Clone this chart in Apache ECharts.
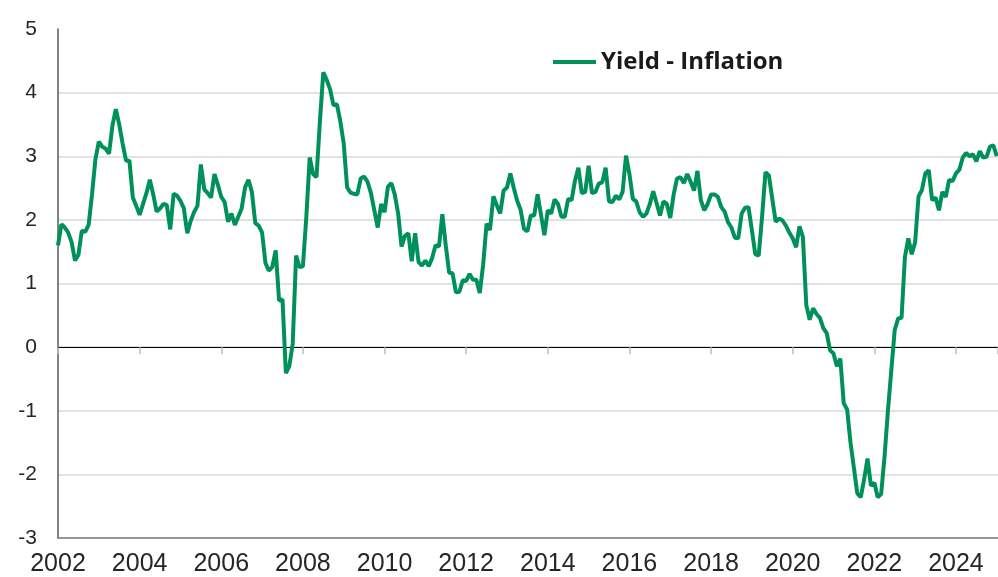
<!DOCTYPE html>
<html>
<head>
<meta charset="utf-8">
<script src="https://cdn.jsdelivr.net/npm/echarts@6/dist/echarts.min.js"></script>
<style>
  html, body { margin: 0; padding: 0; background: #fff; }
  #chart { width: 998px; height: 577px; }
</style>
</head>
<body>
<div id="chart"></div>
<script>
// monthly series, first value = Jan 2002
var startYear = 2002;
var seriesName = 'Yield - Inflation';
var yieldInflation = [
  1.60, 1.93, 1.88, 1.80, 1.65, 1.36, 1.45, 1.83, 1.81, 1.92, 2.40, 2.95,   // 2002
  3.23, 3.15, 3.12, 3.04, 3.48, 3.74, 3.50, 3.20, 2.93, 2.93, 2.35, 2.22,   // 2003
  2.08, 2.25, 2.42, 2.63, 2.40, 2.13, 2.18, 2.25, 2.23, 1.85, 2.41, 2.38,   // 2004
  2.30, 2.18, 1.79, 1.98, 2.12, 2.22, 2.87, 2.48, 2.42, 2.35, 2.72, 2.55,   // 2005
  2.36, 2.28, 1.97, 2.10, 1.92, 2.05, 2.18, 2.51, 2.63, 2.44, 1.95, 1.91,   // 2006
  1.80, 1.32, 1.20, 1.26, 1.52, 0.73, 0.75, -0.41, -0.30, 0.05, 1.44, 1.26, // 2007
  1.27, 2.04, 2.98, 2.72, 2.67, 3.55, 4.32, 4.20, 4.05, 3.80, 3.82, 3.55,   // 2008
  3.20, 2.51, 2.43, 2.41, 2.40, 2.65, 2.68, 2.60, 2.42, 2.15, 1.88, 2.25,   // 2009
  2.12, 2.52, 2.58, 2.40, 2.10, 1.58, 1.75, 1.79, 1.35, 1.79, 1.34, 1.28,   // 2010
  1.36, 1.27, 1.40, 1.60, 1.58, 2.09, 1.60, 1.17, 1.16, 0.86, 0.87, 1.05,   // 2011
  1.04, 1.15, 1.06, 1.06, 0.85, 1.30, 1.94, 1.84, 2.37, 2.23, 2.10, 2.46,   // 2012
  2.51, 2.73, 2.50, 2.30, 2.16, 1.86, 1.82, 2.07, 2.07, 2.40, 2.08, 1.76,   // 2013
  2.15, 2.10, 2.32, 2.25, 2.05, 2.05, 2.33, 2.31, 2.62, 2.82, 2.42, 2.44,   // 2014
  2.85, 2.42, 2.44, 2.57, 2.59, 2.82, 2.29, 2.28, 2.38, 2.32, 2.44, 3.01,   // 2015
  2.72, 2.33, 2.29, 2.12, 2.05, 2.10, 2.25, 2.45, 2.26, 2.07, 2.29, 2.25,   // 2016
  2.03, 2.40, 2.65, 2.67, 2.58, 2.72, 2.60, 2.46, 2.77, 2.31, 2.15, 2.25,   // 2017
  2.40, 2.40, 2.36, 2.20, 2.13, 1.96, 1.88, 1.72, 1.71, 2.10, 2.19, 2.20,   // 2018
  1.84, 1.46, 1.44, 2.05, 2.75, 2.70, 2.33, 1.97, 2.02, 1.99, 1.91, 1.80,   // 2019
  1.71, 1.57, 1.90, 1.73, 0.66, 0.43, 0.61, 0.52, 0.46, 0.30, 0.22, -0.05,  // 2020
  -0.10, -0.30, -0.18, -0.88, -0.98, -1.50, -1.90, -2.30, -2.36, -2.08, -1.75, -2.18, // 2021
  -2.13, -2.36, -2.31, -1.72, -1.00, -0.36, 0.27, 0.45, 0.46, 1.42, 1.71, 1.46,     // 2022
  1.65, 2.37, 2.47, 2.73, 2.78, 2.31, 2.35, 2.15, 2.44, 2.36, 2.63, 2.61,   // 2023
  2.73, 2.79, 2.98, 3.05, 3.00, 3.03, 2.92, 3.08, 2.98, 2.99, 3.15, 3.17,   // 2024
  3.00                                                                      // 2025
];
var yearTicks = [2002, 2004, 2006, 2008, 2010, 2012, 2014, 2016, 2018, 2020, 2022, 2024];

// x as decimal year so the 2-year ticks land on the plain value scale
var points = yieldInflation.map(function (v, i) {
  return [startYear + i / 12, v];
});

var green = '#00915a';
var mychart = echarts.init(document.getElementById('chart'));

var option = {
  animation: false,
  grid: { left: 58, right: 0, top: 29, bottom: 38 },
  legend: {
    left: 548,
    top: 45,
    icon: 'rect',
    itemWidth: 43,
    itemHeight: 4,
    itemGap: 10,
    textStyle: {
      fontFamily: 'Open Sans',
      fontWeight: 'bold',
      fontSize: 24,
      color: '#1a1a1a'
    },
    data: [seriesName]
  },
  xAxis: [
    {
      type: 'value',
      min: 2002,
      max: 2025.03,
      interval: 2,
      axisLine: { onZero: false, lineStyle: { color: '#7f7f7f', width: 1.5 } },
      axisTick: { show: false },
      splitLine: { show: false },
      axisLabel: {
        margin: 14,
        fontFamily: 'Liberation Sans',
        fontSize: 25,
        color: '#262626',
        showMaxLabel: false,
        formatter: function (v) {
          return yearTicks.indexOf(v) >= 0 ? String(v) : '';
        }
      }
    },
    {
      // black zero line with the small year ticks hanging under it
      type: 'value',
      min: 2002,
      max: 2025.03,
      interval: 2,
      position: 'bottom',
      axisLine: { onZero: true, lineStyle: { color: '#000', width: 1 } },
      axisTick: { show: true, length: 7, lineStyle: { color: '#bfbfbf', width: 1.5 } },
      axisLabel: { show: false },
      splitLine: { show: false }
    }
  ],
  yAxis: {
    type: 'value',
    min: -3,
    max: 5,
    interval: 1,
    axisLine: { show: true, lineStyle: { color: '#595959', width: 1.5 } },
    axisTick: { show: false },
    axisLabel: {
      margin: 21,
      fontFamily: 'Liberation Sans',
      fontSize: 21,
      color: '#262626'
    },
    splitLine: {
      lineStyle: {
        color: ['#d9d9d9', '#d9d9d9', '#d9d9d9', '#d9d9d9', '#d9d9d9', '#d9d9d9', '#d9d9d9', '#d9d9d9', 'rgba(0,0,0,0)'],
        width: 1.5
      }
    }
  },
  series: [
    {
      name: seriesName,
      type: 'line',
      xAxisIndex: 0,
      data: points,
      showSymbol: false,
      color: green,
      lineStyle: { color: green, width: 4 },
      z: 5
    }
  ]
};
mychart.setOption(option);
</script>
</body>
</html>
